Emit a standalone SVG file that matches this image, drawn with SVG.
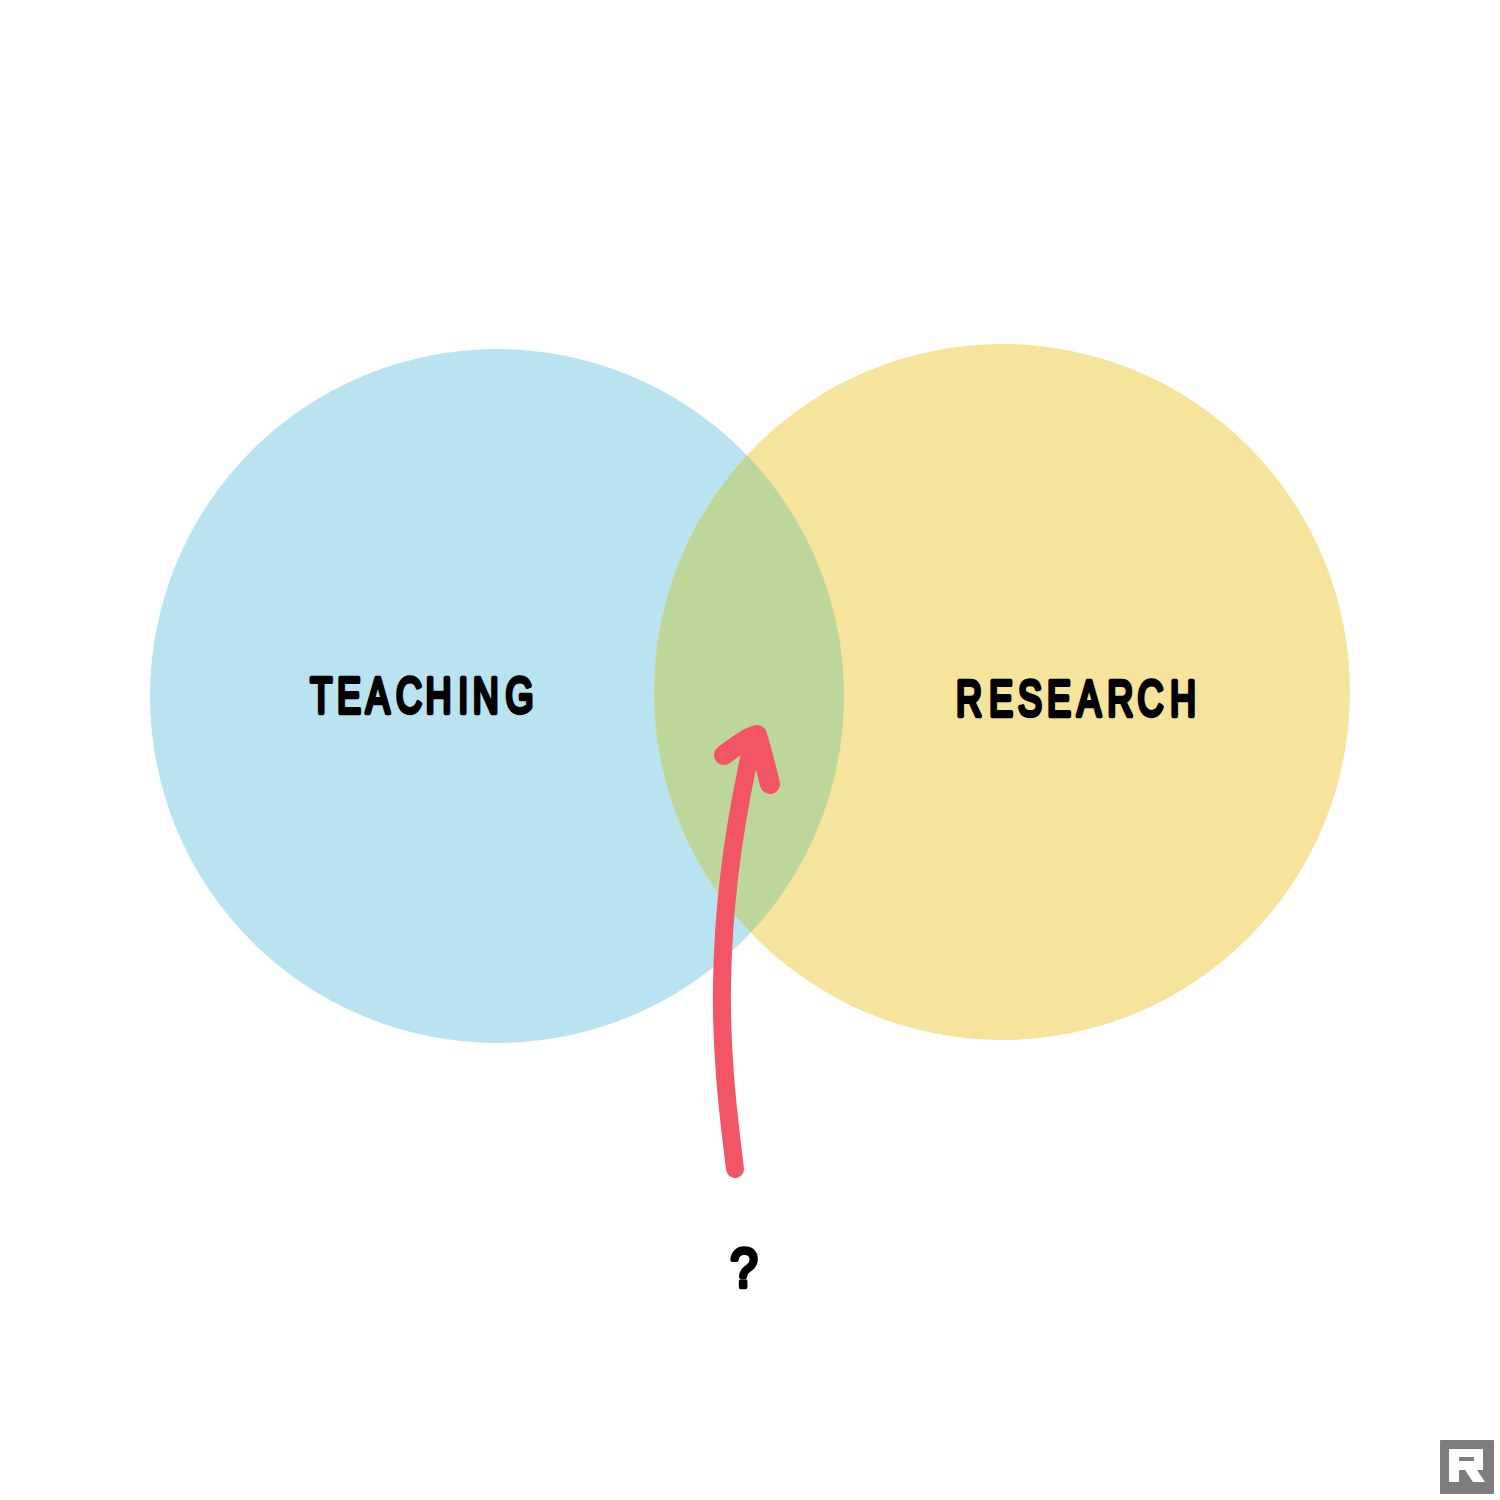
<svg xmlns="http://www.w3.org/2000/svg" width="1500" height="1500" viewBox="0 0 1500 1500">
<style>
.lbl{font-family:"Liberation Sans","DejaVu Sans",sans-serif;font-weight:400;font-size:50px;fill:#000;stroke:#000;stroke-width:4.5;stroke-linejoin:round;stroke-linecap:round}
.arrow{fill:none;stroke:#F25565;stroke-linecap:round;stroke-linejoin:round}
</style>
<defs>
<clipPath id="leftClip"><circle cx="497" cy="696" r="347"/></clipPath>
</defs>
<rect width="1500" height="1500" fill="#fff"/>
<g id="teaching">
<circle cx="497" cy="696" r="347" fill="#B9E3F0"/>
</g>
<g id="research">
<circle cx="1002" cy="692" r="348" fill="#F6E39C"/>
</g>
<g id="overlap">
<circle cx="1002" cy="692" r="348" fill="#BDD699" clip-path="url(#leftClip)"/>
</g>
<g transform="scale(.72 1)">
<text class="lbl" y="713" x="431 468 508 550 591 636.5 656.5 702">TEACHING</text>
<text class="lbl" y="716" x="1327.8 1373.6 1413.9 1454.2 1495.8 1538 1580 1625">RESEARCH</text>
</g>
<text class="lbl" transform="scale(.88 1)" y="1287" x="845.5" text-anchor="middle" style="font-size:56px">?</text>
<g id="connectors">
<path class="arrow" stroke-width="18" d="M735 1169C727 1105 721 1050 722 985C723 900 735 820 752 745"/>
<path class="arrow" stroke-width="20" d="M724 755C735 747 746 738 757 735C762 751 766 768 770 784"/>
</g>
<g id="logo">
<rect x="1440" y="1440" width="54" height="54" rx="1" fill="#7D7D7D"/>
<path d="M1449 1449H1483V1470H1477L1485 1482H1473L1465 1470H1459V1482H1449Z" fill="#fff"/>
<rect x="1459" y="1457" width="15" height="4" fill="#7D7D7D"/>
</g>
</svg>
